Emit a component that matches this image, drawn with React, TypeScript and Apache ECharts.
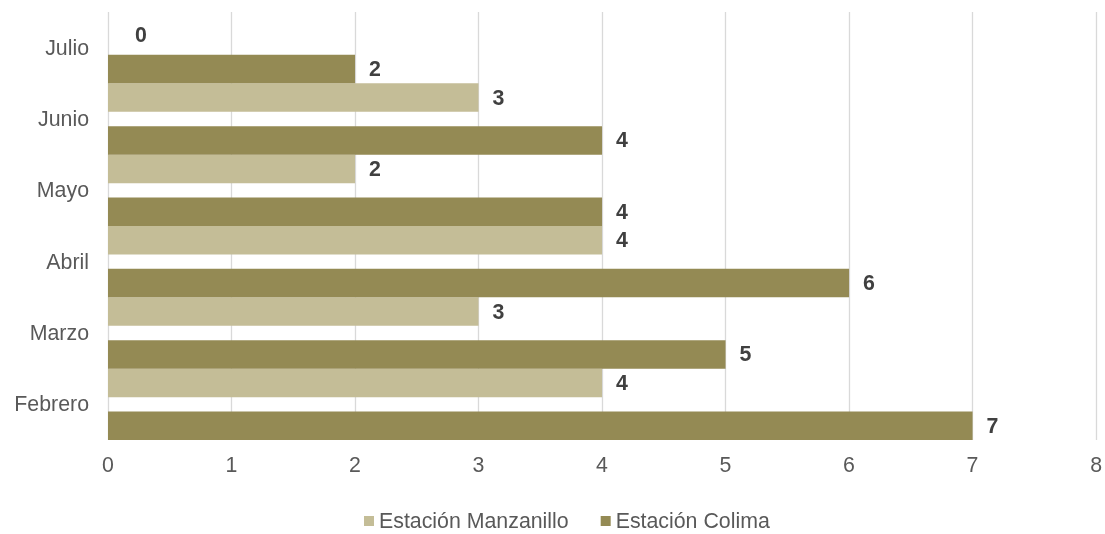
import React, { useEffect, useRef } from "react";
import * as echarts from "echarts";

const categories = ["Febrero", "Marzo", "Abril", "Mayo", "Junio", "Julio"];
const manzanillo = [4, 3, 4, 2, 3, 0];
const colima = [7, 5, 6, 4, 4, 2];
const seriesNames = ["Estación Manzanillo", "Estación Colima"];
const xTicks = [0, 1, 2, 3, 4, 5, 6, 7, 8];

const FONT = "'Liberation Sans', Arial, sans-serif";
const FS = 21.33;

function toData(values: number[]) {
  return values.map((v) =>
    v === 0 ? { value: v, label: { offset: [13, 9] } } : { value: v }
  );
}

export default function App() {
  const ref = useRef<HTMLDivElement>(null);
  useEffect(() => {
    if (!ref.current) return;
    const chart = echarts.init(ref.current, null, { renderer: "svg" });
    const labelCfg = {
      show: true,
      position: "right",
      distance: 14,
      color: "#404040",
      fontWeight: "bold",
      fontSize: FS,
      fontFamily: FONT,
    };
    chart.setOption({
      animation: false,
      textStyle: { fontFamily: FONT },
      grid: { left: 108, right: 8, top: 12, bottom: 94, containLabel: false },
      legend: {
        data: seriesNames,
        left: 364,
        top: 509,
        padding: 0,
        itemWidth: 10,
        itemHeight: 10,
        itemGap: 32,
        icon: "rect",
        textStyle: { color: "#595959", fontSize: FS, fontFamily: FONT, lineHeight: 24, padding: [0, 0, 0, 0] },
      },
      xAxis: {
        type: "value",
        min: xTicks[0],
        max: xTicks[xTicks.length - 1],
        interval: 1,
        axisLine: { show: false },
        axisTick: { show: false },
        axisLabel: { color: "#595959", fontSize: FS, fontFamily: FONT, margin: 14 },
        splitLine: { show: true, lineStyle: { color: "#D9D9D9", width: 1.3 } },
      },
      yAxis: {
        type: "category",
        data: categories,
        axisLine: { show: false },
        axisTick: { show: false },
        axisLabel: { color: "#595959", fontSize: FS, fontFamily: FONT, margin: 19 },
        splitLine: { show: false },
      },
      series: [
        {
          name: seriesNames[0],
          type: "bar",
          data: toData(manzanillo),
          itemStyle: { color: "#C4BD97" },
          barCategoryGap: 0,
          barGap: "50%",
          label: labelCfg,
        },
        {
          name: seriesNames[1],
          type: "bar",
          data: toData(colima),
          itemStyle: { color: "#948A54" },
          barCategoryGap: 0,
          barGap: "50%",
          label: labelCfg,
        },
      ],
    });
    return () => chart.dispose();
  }, []);
  return (
    <div
      ref={ref}
      style={{ position: "fixed", left: 0, top: 0, width: 1105, height: 534 }}
    />
  );
}
